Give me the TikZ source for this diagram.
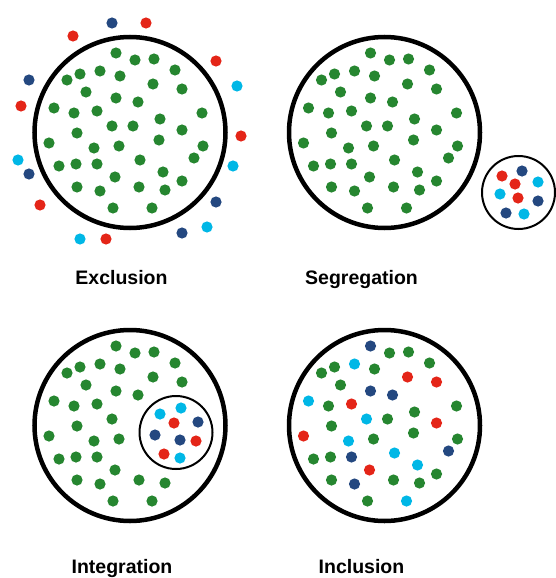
\documentclass[tikz,border=0pt]{standalone}
\usepackage{fontspec}
\setmainfont{Liberation Sans}
\usetikzlibrary{positioning}

\definecolor{gr}{RGB}{38,134,48}
\definecolor{rd}{RGB}{228,37,24}
\definecolor{nv}{RGB}{36,72,128}
\definecolor{cy}{RGB}{0,183,230}

% dot positions inside a big ring (first panel coordinates)
\def\outerdots{116/53,135/60,154/59,175/70,80/74,100/71,120/76,67/80,153/84,182/89,
  86/92,116/98,138/102,54/108,74/113,97/111,112/126,77/133,49/143,94/148,119/146,
  59/166,76/164,97/164,115/177,77/187,100/191,139/187,165/190,113/208,152/208}
\def\innerdots{202/113,160/119,133/126,182/130,159/140,203/146,194/158,140/160,163/172,182/181}

\begin{document}
\begin{tikzpicture}[x=1pt, y=-1pt,
    ring/.style={circle, draw=black, line width=4.5pt, minimum size=191pt, inner sep=0pt},
    smallring/.style={circle, draw=black, line width=2pt, minimum size=73pt, inner sep=0pt},
    caption/.style={font=\fontsize{19.5}{23}\selectfont\bfseries, anchor=base}]
    \useasboundingbox (0,0) rectangle (555,578);

    % Exclusion
    \node [ring] (excl) at (130,132.5) {};
    \foreach \x/\y in \outerdots {\fill[gr] (\x,\y) circle (5.6pt);}
    \foreach \x/\y in \innerdots {\fill[gr] (\x,\y) circle (5.6pt);}
    \foreach \x/\y/\c in {112/23/nv,146/23/rd,73/36/rd,216/61/rd,29/80/nv,237/86/cy,
        21/106/rd,241/136/rd,18/160/cy,29/174/nv,233/166/cy,40/205/rd,216/202/nv,
        207/227/cy,182/233/nv,80/239/cy,106/239/rd}
        {\fill[\c] (\x,\y) circle (5.6pt);}
    \node [caption] (lexcl) at (121.5,284.5) {Exclusion};

    % Segregation
    \begin{scope}[shift={(254.5,0)}]
        \node [ring] (segr) at (130,132.5) {};
        \foreach \x/\y in \outerdots {\fill[gr] (\x,\y) circle (5.6pt);}
        \foreach \x/\y in \innerdots {\fill[gr] (\x,\y) circle (5.6pt);}
    \end{scope}
    \node [smallring] (segrsmall) at (518.5,192.5) {};
    \foreach \x/\y/\c in {502/176/rd,522/171/nv,515/184/rd,538/182/cy,500/194/cy,
        518/198/rd,538/201/nv,506/213/nv,524/214/cy}
        {\fill[\c] (\x,\y) circle (5.6pt);}
    \node [caption] (lsegr) at (361.5,284.5) {Segregation};

    % Integration
    \begin{scope}[shift={(0,293)}]
        \node [ring] (integ) at (130,132.5) {};
        \foreach \x/\y in \outerdots {\fill[gr] (\x,\y) circle (5.6pt);}
    \end{scope}
    \node [smallring] (integsmall) at (176,432.5) {};
    \foreach \x/\y/\c in {160/414/cy,181/408/cy,174/423/rd,198/422/nv,155/435/nv,
        180/440/nv,196/441/rd,164/454/rd,180/458/cy}
        {\fill[\c] (\x,\y) circle (5.6pt);}
    \node [caption] (linteg) at (122,573.5) {Integration};

    % Inclusion
    \begin{scope}[shift={(254.5,293)}]
        \node [ring] (incl) at (130,132.5) {};
        \foreach \x/\y/\c in {116/53/nv,135/60/gr,154/59/gr,175/70/gr,80/74/gr,100/71/cy,
            120/76/gr,67/80/gr,153/84/rd,182/89/rd,86/92/gr,116/98/nv,138/102/nv,54/108/cy,
            74/113/gr,97/111/rd,202/113/gr,160/119/gr,112/126/cy,133/126/gr,182/130/rd,
            77/133/gr,49/143/rd,94/148/cy,119/146/gr,159/140/gr,203/146/gr,194/158/nv,
            140/160/cy,59/166/gr,76/164/gr,97/164/nv,163/172/cy,115/177/rd,182/181/gr,
            77/187/gr,100/191/nv,139/187/gr,165/190/gr,113/208/gr,152/208/cy}
            {\fill[\c] (\x,\y) circle (5.6pt);}
    \end{scope}
    \node [caption] (lincl) at (361.5,573.5) {Inclusion};
\end{tikzpicture}
\end{document}
